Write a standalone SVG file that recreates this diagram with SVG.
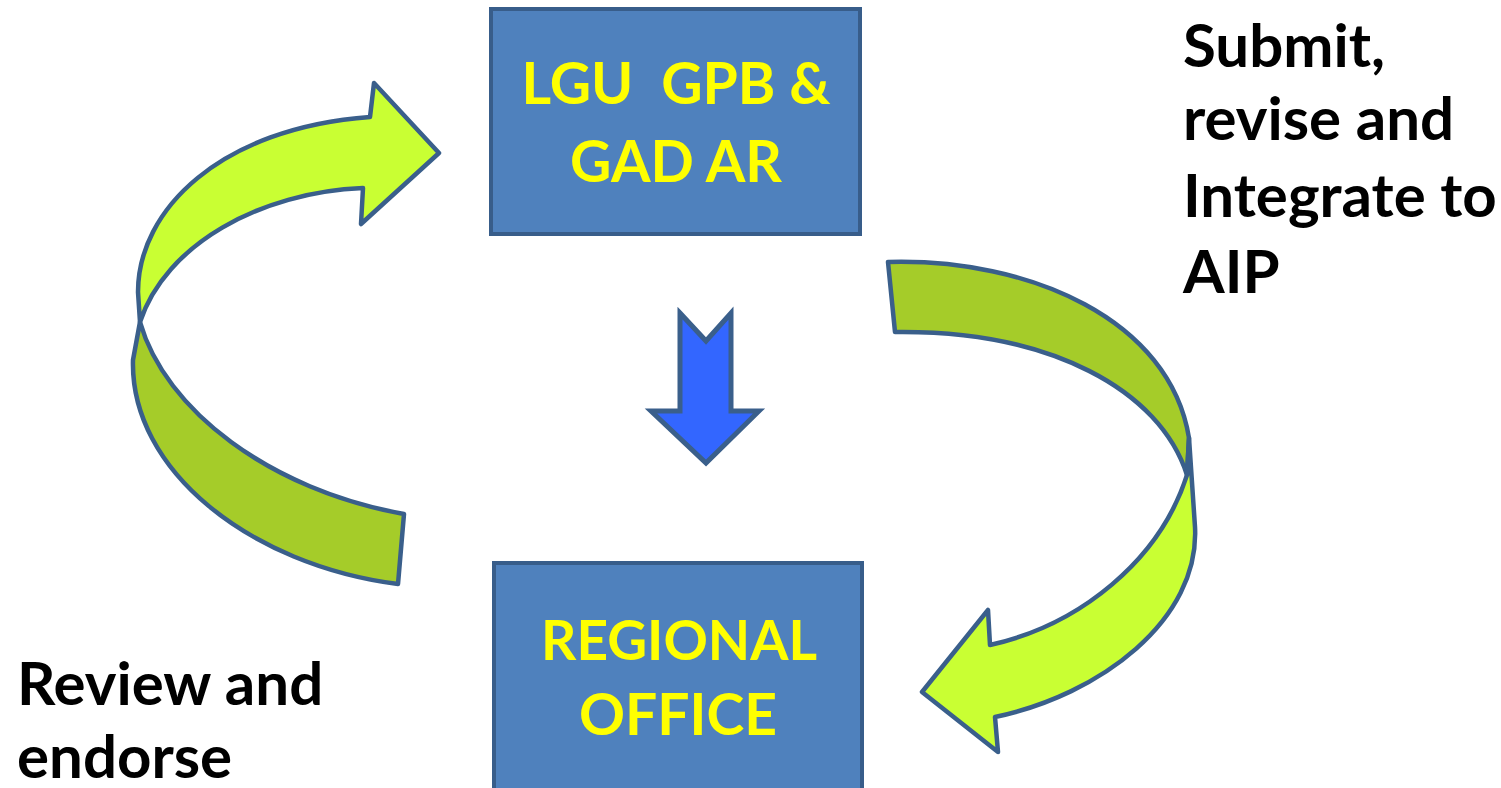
<svg xmlns="http://www.w3.org/2000/svg" width="1501" height="788" viewBox="0 0 1501 788">
  <style>
    .box { fill: #4F81BD; stroke: #385D8A; stroke-width: 4; }
    .boxtext { font-family: Lato, "Open Sans", "Liberation Sans", sans-serif; font-weight: 700; font-size: 57px; fill: #FFFF00; text-anchor: middle; }
    .label { font-family: Lato, "Open Sans", "Liberation Sans", sans-serif; font-weight: 700; font-size: 60px; fill: #000000; }
    .front { fill: #C9FF33; stroke: #3A5F8B; stroke-width: 4.5; stroke-linejoin: round; }
    .back { fill: #A5CC29; stroke: #3A5F8B; stroke-width: 4.5; stroke-linejoin: round; }
    .down { fill: #3366FF; stroke: #3A5F8B; stroke-width: 5; }
  </style>

  <!-- connectors: twisted loop arrows and the central down arrow -->
  <g id="connectors">
    <!-- left loop: Regional Office back up to LGU -->
    <path class="back" d="M 140,322 L 133,360 C 130,470 250,565 398,584 L 404,514 C 270,490 165,410 140,322 Z"/>
    <path class="front" d="M 138,292 C 138,210 220,128 370,117 L 374,83 L 439,153 L 361,224 L 363,188 C 260,192 165,245 140,322 Z"/>
    <!-- right loop: LGU down to Regional Office -->
    <path class="back" d="M 888,262 C 1030,258 1170,320 1189,438 L 1187,475 C 1160,390 1050,330 895,332 Z"/>
    <path class="front" d="M 1187,475 L 1189,438 L 1195,527 C 1200,620 1100,695 995,717 L 998,752 L 922,692 L 988,610 L 990,645 C 1080,625 1160,560 1187,475 Z"/>
    <!-- straight down arrow -->
    <path class="down" d="M 680,313 L 706,341 L 731,313 L 731,411 L 759,411 L 706,463 L 651,411 L 680,411 Z"/>
  </g>

  <g id="node-lgu">
    <rect class="box" x="491" y="9" width="369" height="225"/>
    <text class="boxtext" x="676" y="104" xml:space="preserve">LGU  GPB &amp;</text>
    <text class="boxtext" x="676" y="182">GAD AR</text>
  </g>

  <g id="node-regional">
    <rect class="box" x="494" y="563" width="368" height="240"/>
    <text class="boxtext" x="679" y="660" style="font-size:55px">REGIONAL</text>
    <text class="boxtext" x="678" y="735">OFFICE</text>
  </g>

  <g id="label-submit">
    <text class="label" x="1183" y="67">Submit,</text>
    <text class="label" x="1183" y="140">revise and</text>
    <text class="label" x="1183" y="217">Integrate to</text>
    <text class="label" x="1183" y="293">AIP</text>
  </g>

  <g id="label-review">
    <text class="label" x="17" y="705">Review and</text>
    <text class="label" x="17" y="778">endorse</text>
  </g>
</svg>
